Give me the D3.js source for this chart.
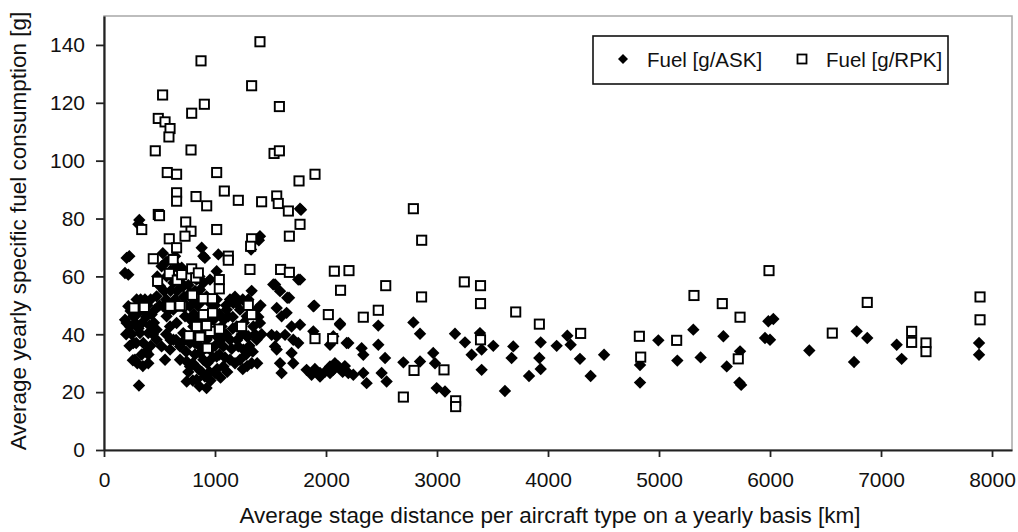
<!DOCTYPE html>
<html><head><meta charset="utf-8">
<script src="https://cdn.jsdelivr.net/npm/d3@7"></script>
<style>
body{margin:0;background:#fff;}
text{font-family:"Liberation Sans",Arial,sans-serif;fill:#111;}
</style></head>
<body><svg id="c" width="1018" height="532"></svg>
<script>
const xTicks=[0,1000,2000,3000,4000,5000,6000,7000,8000];
const yTicks=[0,20,40,60,80,100,120,140];
const seriesNames=["Fuel [g/ASK]","Fuel [g/RPK]"];
const xTitle="Average stage distance per aircraft type on a yearly basis [km]";
const yTitle="Average yearly specific fuel consumption [g]";

const fuelASK=[
[318,79.5],[310,78],[228,67],[204,66.4],[189,61.2],[219,60.6],
[880,69.9],[895,67],[909,66.4],[1030,67.6],[1405,73.9],[1395,72.5],[1325,69.3],
[1766,83.4],[1775,83],
[1015,61.8],[1750,58.9],[1766,58.9],[1525,57.2],[1541,57.2],[1586,54.9],[1667,52.6],[1651,52.6],[1895,49.9],[1886,49.7],
[2126,43.3],[2186,37],[1556,49.1],[1600,46.2],[1645,47.4],[1690,42.7],[1766,43.3],[1510,39.8],[1556,39.3],[1631,39.8],
[1705,38.1],[1750,37],[1540,35.8],[1556,34.7],[1690,33.5],[1586,30],[1705,30],[1600,26.6],[1825,27.7],[1946,26.6],[1946,25.4],
[2036,28.9],[2111,28.9],[2201,26.6],[2066,27.7],[2036,36.4],[1886,41],
[1375,48.5],[1405,43.9],[1286,39.3],[1375,38.1],[1255,34.7],[1330,30],[1135,31.2],[1165,50.8],[1105,48.5],
[315,22.3],[279,31.2],[399,30],[354,37],[264,37],[234,42.7],[264,46.2],[294,52],[369,52],[429,46.8],[474,41.6],[564,46.2],
[519,63.5],[564,60],[595,65.8],[505,56.6],[474,53.1],[640,52],[714,56.6],[714,49.7],[625,38.1],[595,42.7],[519,35.8],[550,31.2],
[745,30.6],[775,28.9],[745,23.7],[834,24.3],[924,21.4],[909,25.4],[1000,26.6],[1075,28.9],[1015,32.3],[895,31.2],[865,35.8],
[955,34.7],[1075,35.8],[1135,38.1],[1195,42.7],[1120,46.2],[1135,52],[1195,50.8],[1225,48.5],[1286,46.2],[1345,42.7],[1300,39.3],
[1210,35.8],[1225,31.2],[1015,52],[985,48.5],[924,53.1],[865,55.4],[834,58.9],[895,57.8],[955,58.9],[730,46.2],[805,42.7],
[654,43.9],[714,40.4],[685,35.8],[595,34.7],[474,38.1],[399,40.4],[324,40.4],[204,43.9],[219,49.7],[354,48.5],[459,48.5],
[534,49.7],[625,48.5],[625,57.8],[654,63.5],[775,54.3],[775,49.7],[865,50.8],[955,50.8],[895,46.2],[834,40.4],[1015,39.3],
[1060,42.7],[985,45],[924,38.1],[775,37],[865,33.5],[685,31.2],
[190,45],[200,40],[240,48],[250,40],[280,44],[300,47],[310,42],[330,52],[345,44],[380,46],[390,50],[410,43],[420,52],[440,40],
[450,44],[230,36],[290,37],[340,33],[380,34],[420,36],[300,30],[350,29],[260,31],[400,33],
[480,60],[500,50],[540,55],[560,52],[580,48],[600,55],[610,60],[650,50],[660,55],[690,58],[720,53],[740,50],
[760,57],[780,45],[800,52],[810,47],[820,55],[840,50],[850,45],[860,60],[560,40],[600,38],[650,38],[700,37],[740,34],[820,37],
[560,65],[600,62],[640,67],[530,68],[700,63],
[760,27],[800,30],[820,33],[850,28],[880,27],[900,35],[930,30],[950,27],[960,40],[980,32],[1000,36],[1020,28],[1040,33],[1050,38],
[1090,32],[1100,40],[1110,27],[1150,35],[1160,42],[1180,30],[1200,38],[1240,40],[1260,44],[1250,28],[1280,33],[1310,36],[1340,34],
[1360,40],[1390,46],[1420,40],[1160,46],[1080,45],[1040,47],[1000,50],[940,44],[880,42],[800,24],[860,22],[960,24],[1050,25],
[1100,50],[1180,53],[1250,52],[1300,52],[1330,55],[1410,50],[1380,30],[1290,29],
[1870,26],[1990,27],[2150,27],[1900,28],[2080,30],[2170,29],
[2126,43.7],[2066,39.3],[2201,37],[2321,35.2],[2336,32.9],[2471,43],[2471,36.4],[2532,31.8],[2096,28.9],[2036,26.6],[2246,26],
[2336,26.6],[2366,23.1],[2501,26.6],[2546,23.7],[2787,44.1],[2847,40.2],[2697,30.3],[2847,30.6],[2966,33.5],[2982,30],[2997,21.4],
[3072,20.2],[3162,40.2],[3252,37.2],[3312,32.9],[3387,40.4],[3402,34.7],[3402,27.7],[3507,36],[3612,20.4],[3687,35.8],[3672,31.8],
[3829,25.6],[3922,31.8],[3934,37.2],[3934,28],[4078,36],[4174,39.5],[4204,36.4],[4288,31.5],[4384,25.6],[4505,32.9],
[4829,29.4],[4829,23.3],[4994,37.9],[5165,30.9],[5309,41.6],[5375,32],[5580,39.3],[5610,28.9],[5730,34.1],[5724,23.3],[5740,22.5],
[5985,44.5],[6030,45.3],[5955,38.7],[6000,38.1],[6354,34.4],[6757,30.4],[6781,41],[6876,38.7],[7141,36.4],[7186,31.5],
[7883,37],[7883,32.9]
];

const fuelRPK=[
[1405,141.1],[874,134.5],[1330,125.9],[528,122.7],[1580,118.7],[904,119.5],[790,116.4],[489,114.6],[550,113.4],[595,111.1],
[585,108.2],[462,103.4],[784,103.7],[1532,102.5],[1580,103.4],[570,95.9],[654,95.3],[1015,95.9],[1901,95.3],[1757,93],
[654,88.9],[654,86],[829,87.6],[925,84.4],[1084,89.5],[1210,86.3],[1420,85.8],[1556,87.8],[1570,85.2],[1661,82.6],[1766,78],
[1670,73.9],[489,81.4],[500,81],[340,76.2],[736,78.8],[784,75.6],[730,73.9],[588,73],[1015,76.2],[1330,73],[1321,70.4],
[654,69.9],[444,66.1],[1120,67],
[1315,62.4],[1591,62.4],[1670,61.4],[2075,61.8],[2207,62],[2131,55.2],[483,58.3],[588,61],[660,58.7],[700,60.6],[790,62.6],
[826,59.5],[850,61.2],[1039,58.9],[1039,55.7],[1120,65.6],[623,65.8],[270,49.1],[363,49.3],[796,53.5],[895,52.3],[976,52.3],
[978,47.4],[895,46.8],[700,49.7],[595,49.7],[685,49.9],[1300,50],[1330,46.8],[1240,42.7],[1039,41.8],[955,41],[865,39],
[766,39.5],[931,35.2],[2021,46.8],[1901,38.5],[2060,38.5],[924,43],[834,42.7],
[2787,83.4],[2862,72.5],[2538,56.8],[2471,48.3],[2336,45.9],[2861,52.9],[3246,58.1],[3392,56.8],[3392,50.6],[3709,47.7],
[3922,43.5],[4294,40.3],[3392,38.1],[2793,27.5],[3063,27.7],[2697,18.3],[3168,17],[3168,15],
[5991,62],[5315,53.4],[5570,50.6],[5730,45.9],[4823,39.3],[4835,32.1],[5159,37.9],[5714,31.5],[6561,40.4],[6876,51],
[7276,41],[7276,37.2],[7405,37],[7405,34],[7892,52.9],[7892,45]
];

const svg=d3.select("#c");
const L=104,R=1012,T=16,B=450;
const x=d3.scaleLinear().domain([0,8180]).range([L,R]);
const y=d3.scaleLinear().domain([0,150]).range([B,T]);

svg.append("rect").attr("x",L).attr("y",T).attr("width",R-L).attr("height",B-T)
  .attr("fill","none").attr("stroke","#a8a8a8").attr("stroke-width",1.5);

const diamond="M0,-6.2L6.2,0L0,6.2L-6.2,0Z";
svg.append("g").selectAll("path").data(fuelASK).join("path")
  .attr("d",diamond).attr("transform",d=>`translate(${x(d[0])},${y(d[1])})`)
  .attr("fill","#000");
svg.append("g").selectAll("rect").data(fuelRPK).join("rect")
  .attr("x",d=>x(d[0])-4.6).attr("y",d=>y(d[1])-4.6).attr("width",9.2).attr("height",9.2)
  .attr("fill","#fff").attr("stroke","#000").attr("stroke-width",1.9);

const xa=svg.append("g").attr("transform",`translate(0,${B})`)
  .call(d3.axisBottom(x).tickValues(xTicks).tickFormat(d3.format("d")).tickSize(7).tickSizeOuter(0).tickPadding(15));
const ya=svg.append("g").attr("transform",`translate(${L},0)`)
  .call(d3.axisLeft(y).tickValues(yTicks).tickFormat(d3.format("d")).tickSize(8).tickSizeOuter(0).tickPadding(11));
[xa,ya].forEach(a=>{
  a.select(".domain").attr("stroke","#222").attr("stroke-width",2.2);
  a.selectAll(".tick line").attr("stroke","#222").attr("stroke-width",1.8);
  a.selectAll(".tick text").attr("font-size",21).attr("font-family","Liberation Sans, Arial").attr("fill","#111");
});

svg.append("text").attr("x",550).attr("y",523).attr("text-anchor","middle")
  .attr("font-size",22.5).text(xTitle);
svg.append("text").attr("transform","translate(26,231) rotate(-90)").attr("text-anchor","middle")
  .attr("font-size",22.5).text(yTitle);

const lg=svg.append("g");
lg.append("rect").attr("x",593).attr("y",36).attr("width",355).attr("height",48)
  .attr("fill","#fff").attr("stroke","#111").attr("stroke-width",1.6);
lg.append("path").attr("d","M0,-5L5,0L0,5L-5,0Z").attr("transform","translate(623,59)").attr("fill","#000");
lg.append("text").attr("x",647).attr("y",66.5).attr("font-size",20.5).text(seriesNames[0]);
lg.append("rect").attr("x",797.5).attr("y",54.5).attr("width",9).attr("height",9)
  .attr("fill","#fff").attr("stroke","#000").attr("stroke-width",1.8);
lg.append("text").attr("x",826).attr("y",66.5).attr("font-size",20.5).text(seriesNames[1]);
</script></body></html>
